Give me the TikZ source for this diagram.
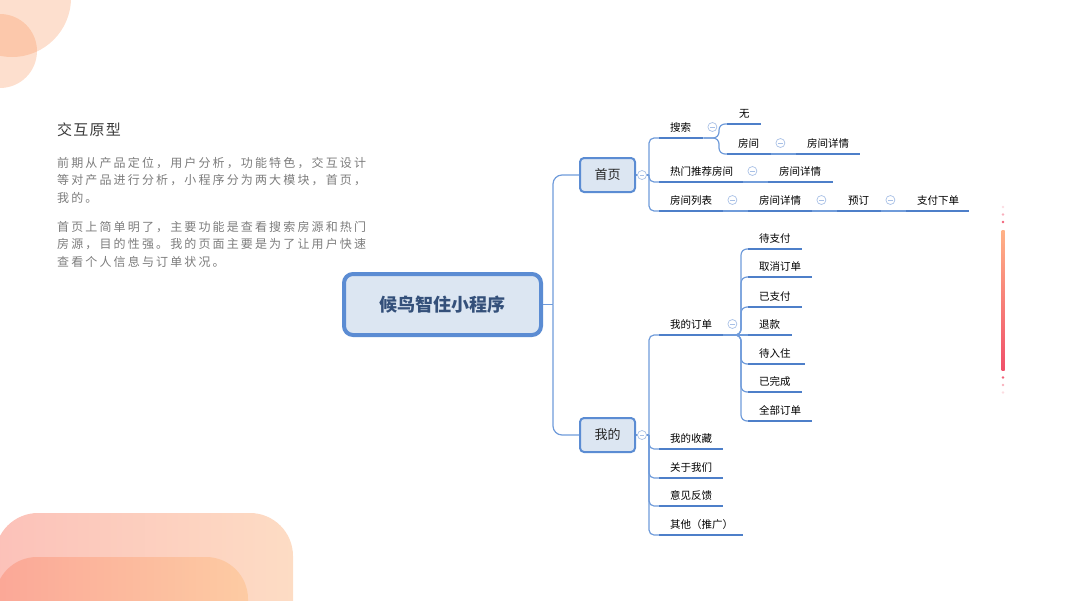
\documentclass[tikz,border=0pt]{standalone}
\usepackage{fontspec}
\setmainfont{Noto Sans CJK SC}
\newfontfamily\cjkpara[LetterSpace=17.8]{Noto Sans CJK SC}
\newfontfamily\cjktitle[LetterSpace=8]{Noto Sans CJK SC}
\definecolor{linec}{HTML}{6F9BDA}
\definecolor{ulc}{HTML}{4E7FC9}
\definecolor{nodeb}{HTML}{5B8CD3}
\definecolor{nodef}{HTML}{DCE6F2}
\definecolor{mkc}{HTML}{A8C0E6}
\definecolor{maintext}{HTML}{34507A}
\definecolor{circc}{HTML}{F98A4A}
\definecolor{barAl}{HTML}{FCC1B9}
\definecolor{barAr}{HTML}{FDDCC4}
\definecolor{barBl}{HTML}{FBA797}
\definecolor{barBr}{HTML}{FDCBA3}
\definecolor{vtop}{HTML}{FFB287}
\definecolor{vbot}{HTML}{F0506A}
\definecolor{titlec}{HTML}{3A3A3A}
\definecolor{parac}{HTML}{7C7C7C}
\begin{document}
\begin{tikzpicture}[x=1pt,y=-1pt,
  conn/.style={draw=linec,line width=1.2pt},
  uline/.style={draw=ulc,line width=2.8pt},
  mainbox/.style={draw=nodeb,fill=nodef,line width=4pt,rounded corners=9pt,
    minimum width=197pt,minimum height=61pt,inner sep=0pt,
    font=\fontsize{18}{20}\selectfont\bfseries,text=maintext},
  topic/.style={draw=nodeb,fill=nodef,line width=2pt,rounded corners=4pt,
    minimum width=55pt,minimum height=34pt,inner sep=0pt,
    font=\fontsize{13}{15}\selectfont,text=black!85},
  item/.style={anchor=south west,inner xsep=0pt,inner ysep=4.5pt,align=left,
    text height=8.5pt,text depth=2pt,font=\fontsize{10.5}{12}\selectfont,text=black},
  mk/.style={circle,draw=mkc,fill=white,minimum size=9pt,inner sep=0pt,line width=0.7pt,
    path picture={\draw[mkc,line width=0.7pt]
      ([xshift=-2.3pt]path picture bounding box.center) --
      ([xshift=2.3pt]path picture bounding box.center);}},
  para/.style={anchor=west,inner sep=0pt,text=parac,
    font=\cjkpara\fontsize{12}{14}\selectfont}
]
\useasboundingbox (0,0) rectangle (1067,600);
% decorations
\begin{scope}
\clip (0,0) rectangle (1067,600);
\fill[circc,opacity=0.27] (12,-2) circle (59pt);
\fill[circc,opacity=0.27] (0,51) circle (37pt);
\shade[left color=barAl,right color=barAr,rounded corners=43pt] (-5,513) rectangle (293,700);
\shade[left color=barBl,right color=barBr,rounded corners=42pt] (-5,557) rectangle (248,720);
\shade[top color=vtop,bottom color=vbot] (1001.5,230) rectangle (1004.5,370);
\fill[vbot,opacity=0.9] (1003,222) circle (1.4pt);
\fill[vbot,opacity=0.45] (1003,214.5) circle (1.4pt);
\fill[vbot,opacity=0.2] (1003,207) circle (1.4pt);
\fill[vbot,opacity=0.9] (1003,377.5) circle (1.4pt);
\fill[vbot,opacity=0.45] (1003,385) circle (1.4pt);
\fill[vbot,opacity=0.2] (1003,392.5) circle (1.4pt);
\end{scope}
% text block
\node[anchor=west,inner sep=0pt,text=titlec,font=\cjktitle\fontsize{15}{17}\selectfont] (title) at (57,130) {交互原型};
\node[para] (p1) at (57,163) {前期从产品定位，用户分析，功能特色，交互设计};
\node[para] (p2) at (57,180.5) {等对产品进行分析，小程序分为两大模块，首页，};
\node[para] (p3) at (57,198) {我的。};
\node[para] (p4) at (57,227) {首页上简单明了，主要功能是查看搜索房源和热门};
\node[para] (p5) at (57,244.5) {房源，目的性强。我的页面主要是为了让用户快速};
\node[para] (p6) at (57,262) {查看个人信息与订单状况。};
% main nodes
\node[mainbox] (main) at (442.5,304.5) {候鸟智住小程序};
\node[topic] (shouye) at (607.5,175) {首页};
\node[topic] (wode) at (607.5,435) {我的};
% items top
\node[item,text width=44pt] (ss) at (659,138) {\hspace*{11pt}搜索};
\node[item,text width=34pt] (wu) at (727,124) {\hspace*{12pt}无};
\node[item,text width=44pt] (fj) at (727,154) {\hspace*{11pt}房间};
\node[item,text width=64pt] (fjxq1) at (796,154) {\hspace*{11pt}房间详情};
\node[item,text width=84pt] (rm) at (659,182) {\hspace*{11pt}热门推荐房间};
\node[item,text width=65pt] (fjxq2) at (768,182) {\hspace*{11pt}房间详情};
\node[item,text width=64pt] (fjlb) at (659,211) {\hspace*{11pt}房间列表};
\node[item,text width=64pt] (fjxq3) at (748,211) {\hspace*{11pt}房间详情};
\node[item,text width=44pt] (yd) at (837,211) {\hspace*{11pt}预订};
\node[item,text width=63pt] (zf) at (906,211) {\hspace*{11pt}支付下单};
% items bottom
\node[item,text width=64pt] (wddd) at (659,335) {\hspace*{11pt}我的订单};
\node[item,text width=54pt] (dzf) at (748,249) {\hspace*{11pt}待支付};
\node[item,text width=64pt] (qx) at (748,277) {\hspace*{11pt}取消订单};
\node[item,text width=54pt] (yzf) at (748,307) {\hspace*{11pt}已支付};
\node[item,text width=44pt] (tk) at (748,335) {\hspace*{11pt}退款};
\node[item,text width=57pt] (drz) at (748,364) {\hspace*{11pt}待入住};
\node[item,text width=54pt] (ywc) at (748,392) {\hspace*{11pt}已完成};
\node[item,text width=64pt] (qb) at (748,421) {\hspace*{11pt}全部订单};
\node[item,text width=64pt] (sc) at (659,449) {\hspace*{11pt}我的收藏};
\node[item,text width=64pt] (gy) at (659,478) {\hspace*{11pt}关于我们};
\node[item,text width=64pt] (yj) at (659,506) {\hspace*{11pt}意见反馈};
\node[item,text width=84pt] (qt) at (659,535) {\hspace*{11pt}其他（推广）};
% connectors
\coordinate (mj) at (553,304.5);
\draw[conn] (main.east) -- (mj);
\draw[conn,rounded corners=9pt] (mj) |- (shouye.west);
\draw[conn,rounded corners=9pt] (mj) |- (wode.west);
\coordinate (s1) at (649,175);
\draw[conn] (shouye.east) -- (s1);
\foreach \n in {ss,rm,fjlb} \draw[conn,rounded corners=5pt] (s1) |- (\n.south west);
\coordinate (s2) at (719,138);
\foreach \n in {wu,fj} \draw[conn,rounded corners=6pt] (ss.south east) -- (s2) |- (\n.south west);
\draw[conn] (fj.south east) -- (fjxq1.south west);
\draw[conn] (rm.south east) -- (fjxq2.south west);
\draw[conn] (fjlb.south east) -- (fjxq3.south west);
\draw[conn] (fjxq3.south east) -- (yd.south west);
\draw[conn] (yd.south east) -- (zf.south west);
\coordinate (s3) at (649,435);
\draw[conn] (wode.east) -- (s3);
\foreach \n in {wddd,sc,gy,yj,qt} \draw[conn,rounded corners=5pt] (s3) |- (\n.south west);
\coordinate (s4) at (741,335);
\foreach \n in {dzf,qx,yzf,drz,ywc,qb} \draw[conn,rounded corners=6pt] (wddd.south east) -- (s4) |- (\n.south west);
\draw[conn] (wddd.south east) -- (tk.south west);
% underlines
\foreach \n in {ss,wu,fj,fjxq1,rm,fjxq2,fjlb,fjxq3,yd,zf,wddd,dzf,qx,yzf,tk,drz,ywc,qb,sc,gy,yj,qt}
  \draw[uline] (\n.south west) -- (\n.south east);
% markers
\node[mk] (mshouye) at ([xshift=6pt]shouye.east) {};
\node[mk] (mwode) at ([xshift=6pt]wode.east) {};
\foreach \n in {ss,fj,rm,fjlb,fjxq3,yd,wddd}
  \node[mk] (m\n) at ([xshift=9pt,yshift=11pt]\n.south east) {};
\end{tikzpicture}
\end{document}
